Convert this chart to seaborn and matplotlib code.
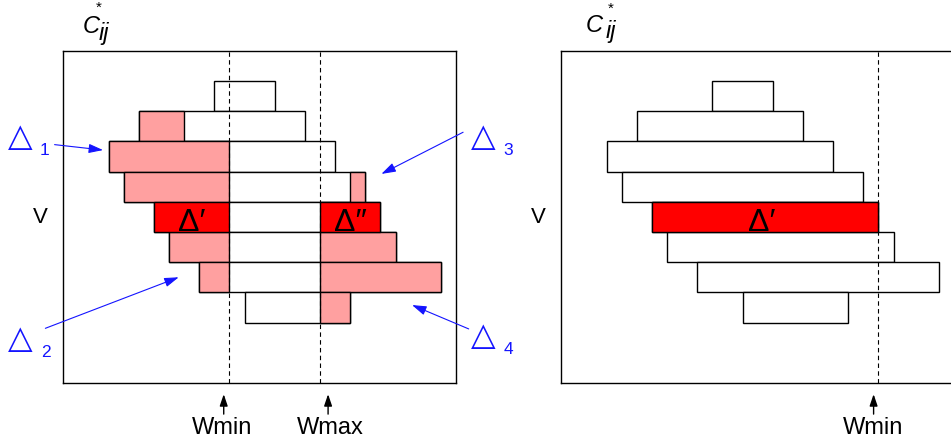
import matplotlib
matplotlib.use("Agg")
import matplotlib.pyplot as plt
import seaborn as sns

# extents of the eight capacity rows, top row first
row_start = [7, 2, 0, 1, 3, 4, 6, 9]
row_end = [11, 13, 15, 17, 18, 19, 22, 16]

# left panel: window bounds and the shaded parts of each row
w_min_left = 8
w_max_left = 14
pink_rows = [1, 2, 3, 3, 5, 5, 6, 6, 7]
pink_start = [2, 0, 1, 16, 4, 14, 6, 14, 14]
pink_end = [5, 8, 8, 17, 8, 19, 8, 22, 16]
red_rows_left = [4, 4]
red_start_left = [3, 14]
red_end_left = [8, 18]
red_labels_left = ["Δ′", "Δ″"]

# right panel: single window bound and one highlighted segment
w_min_right = 18
red_rows_right = [4]
red_start_right = [3]
red_end_right = [18]
red_labels_right = ["Δ′"]

sns.set_theme(style="white")
plt.rcParams["font.family"] = ["Liberation Sans", "DejaVu Sans"]
plt.rcParams["text.color"] = "black"

PINK = "#ffa0a0"
RED = "#ff0000"
BLUE = "#1414ff"
FIG_W, FIG_H = 951, 439

fig = plt.figure(figsize=(FIG_W / 100, FIG_H / 100), dpi=100)
ax_l = fig.add_axes([0.0666, 0.1253, 0.4129, 0.7570])
ax_r = fig.add_axes([0.5902, 0.1253, 0.4129, 0.7570])


def fig_xy(px, py):
    """Figure-pixel position (from top-left) to figure fraction."""
    return px / FIG_W, 1 - py / FIG_H


def c_label(x_c, y_c, x_ij, y_ij, x_star, y_star):
    fig.text(*fig_xy(x_c, y_c), "C", fontsize=17, style="italic",
             ha="left", va="baseline")
    fig.text(*fig_xy(x_ij, y_ij), "ij", fontsize=17, style="italic",
             ha="left", va="baseline")
    fig.text(*fig_xy(x_star, y_star), "*", fontsize=11,
             ha="left", va="top")


def base_panel(ax, w_lines):
    ax.set_xlim(-3, 23)
    ax.set_ylim(11, 0)
    ax.set_xticks([])
    ax.set_yticks([])
    for sp in ax.spines.values():
        sp.set_color("black")
        sp.set_linewidth(1.0)
    ys = [i + 1.5 for i in range(len(row_start))]
    widths = [e - s for s, e in zip(row_start, row_end)]
    ax.barh(ys, widths, height=1.0, left=row_start, color="white",
            edgecolor="black", linewidth=1.0, zorder=2)
    for w in w_lines:
        ax.axvline(w, color="black", linestyle=(0, (4, 3)), linewidth=0.8,
                   zorder=5)
    ax.text(-4.49, 5.67, "V", fontsize=16, ha="center", va="baseline",
            clip_on=False)


def segments(ax, rows, starts, ends, color):
    ys = [r + 1.5 for r in rows]
    widths = [e - s for s, e in zip(starts, ends)]
    ax.barh(ys, widths, height=1.0, left=starts, color=color,
            edgecolor="black", linewidth=1.0, zorder=3)


def seg_labels(ax, rows, starts, ends, labels, dx=0.0):
    for r, s, e, lab in zip(rows, starts, ends, labels):
        ax.text((s + e) / 2 + dx, r + 1.93, lab, fontsize=23, ha="center",
                va="baseline", color="black", zorder=6)


def w_marker(ax, x_arrow, x_text, label):
    ax.annotate("", xy=(x_arrow, 11.37), xytext=(x_arrow, 12.03),
                xycoords="data", textcoords="data", annotation_clip=False,
                arrowprops=dict(arrowstyle="-|>,head_length=0.5,head_width=0.17",
                                mutation_scale=14, color="black", lw=1.0,
                                shrinkA=0, shrinkB=0))
    ax.text(x_text, 12.66, label, fontsize=17, ha="center", va="baseline",
            clip_on=False)


# left panel
base_panel(ax_l, [w_min_left, w_max_left])
segments(ax_l, pink_rows, pink_start, pink_end, PINK)
segments(ax_l, red_rows_left, red_start_left, red_end_left, RED)
seg_labels(ax_l, red_rows_left, red_start_left, red_end_left, red_labels_left)
w_marker(ax_l, 7.62, 7.53, "Wmin")
w_marker(ax_l, 14.53, 14.67, "Wmax")
c_label(82.5, 33.0, 99.0, 40.0, 96.0, 1.0)

# blue delta callouts around the left panel
callouts = [
    ((-5.83, 3.11), (-4.23, 3.42), "1", (-3.58, 3.11), (-0.37, 3.29)),
    ((-5.83, 9.82), (-4.17, 10.10), "2", (-4.19, 9.19), (4.64, 7.50)),
    ((24.80, 3.11), (26.45, 3.42), "3", (23.47, 2.70), (18.06, 4.08)),
    ((24.81, 9.71), (26.44, 10.01), "4", (23.84, 9.21), (20.09, 8.42)),
]
for tri, num, lab, tail, tip in callouts:
    ax_l.text(tri[0], tri[1], "△", family="DejaVu Sans", fontsize=23,
              ha="center", va="baseline", color=BLUE, clip_on=False)
    ax_l.text(num[0], num[1], lab, fontsize=12.5, ha="center", va="baseline",
              color=BLUE, clip_on=False)
    ax_l.annotate("", xy=tip, xytext=tail, xycoords="data", textcoords="data",
                  annotation_clip=False, zorder=7,
                  arrowprops=dict(arrowstyle="-|>,head_length=0.62,head_width=0.2",
                                  mutation_scale=14, color=BLUE, lw=0.8,
                                  shrinkA=0, shrinkB=0))

# right panel
base_panel(ax_r, [w_min_right])
segments(ax_r, red_rows_right, red_start_right, red_end_right, RED)
seg_labels(ax_r, red_rows_right, red_start_right, red_end_right,
           red_labels_right, dx=-0.23)
w_marker(ax_r, 17.68, 17.62, "Wmin")
c_label(586.0, 31.7, 606.0, 38.0, 607.5, 1.5)

fig.savefig("out.png", dpi=100)
